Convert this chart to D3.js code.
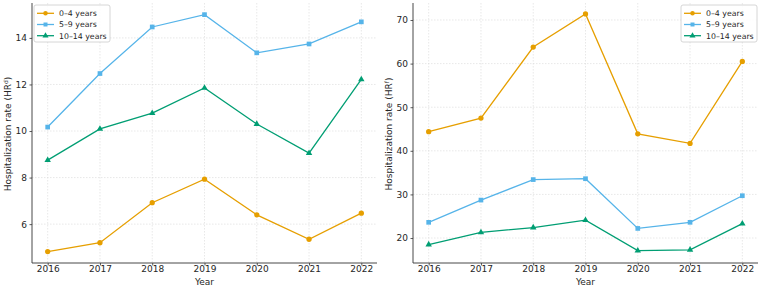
<!DOCTYPE html>
<html><head><meta charset="utf-8">
<script src="https://cdn.jsdelivr.net/npm/d3@7"></script>
<style>body{margin:0;background:#fff;}svg{display:block;} svg text{font-family:"DejaVu Sans",sans-serif;}</style>
</head><body><svg id="c" width="762" height="288"></svg>
<script>
const years = [2016, 2017, 2018, 2019, 2020, 2021, 2022];
const seriesNames = ["0–4 years", "5–9 years", "10–14 years"];
const leftAge04 = [4.82, 5.2, 6.92, 7.93, 6.4, 5.35, 6.47];
const leftAge59 = [10.17, 12.47, 14.47, 15.0, 13.36, 13.74, 14.69];
const leftAge1014 = [8.75, 10.09, 10.77, 11.85, 10.3, 9.05, 12.22];
const rightAge04 = [44.4, 47.5, 63.8, 71.4, 43.9, 41.7, 60.5];
const rightAge59 = [23.6, 28.7, 33.4, 33.6, 22.2, 23.6, 29.7];
const rightAge1014 = [18.5, 21.3, 22.4, 24.1, 17.1, 17.3, 23.3];
const leftTicks = [6, 8, 10, 12, 14];
const rightTicks = [20, 30, 40, 50, 60, 70];
const colors = ["#E69F00", "#56B4E9", "#009E73"];
const markers = ["circle", "square", "triangle"];

const svg = d3.select("#c");
const FONT = "'DejaVu Sans', sans-serif";

function symOf(m) {
  return m === "circle" ? d3.symbolCircle : m === "square" ? d3.symbolSquare : d3.symbolTriangle;
}

function panel(cfg) {
  const g = svg.append("g");
  const x = d3.scaleLinear().domain([2015.7, 2022.3]).range([cfg.x0, cfg.x1]);
  const y = d3.scaleLinear().domain(cfg.ydom).range([263, 3]);
  // grid
  g.append("g").selectAll("line").data(years).join("line")
    .attr("x1", d => x(d)).attr("x2", d => x(d)).attr("y1", 3).attr("y2", 263)
    .attr("stroke", "#d8d8d8").attr("stroke-width", 0.6).attr("stroke-dasharray", "1.5,1.5");
  g.append("g").selectAll("line").data(cfg.ticks).join("line")
    .attr("x1", cfg.x0).attr("x2", cfg.x1).attr("y1", d => y(d)).attr("y2", d => y(d))
    .attr("stroke", "#d8d8d8").attr("stroke-width", 0.6).attr("stroke-dasharray", "1.5,1.5");
  // axes
  const xa = g.append("g").attr("transform", "translate(0,263)")
    .call(d3.axisBottom(x).tickValues(years).tickFormat(d3.format("d")).tickSize(2.5).tickPadding(0.5));
  const ya = g.append("g").attr("transform", `translate(${cfg.x0},0)`)
    .call(d3.axisLeft(y).tickValues(cfg.ticks).tickSize(2.5).tickPadding(2.5));
  [xa, ya].forEach(a => {
    a.attr("font-family", FONT).attr("font-size", 9);
    a.select(".domain").attr("stroke", "#333").attr("stroke-width", 0.9);
    a.selectAll(".tick line").attr("stroke", "#333").attr("stroke-width", 0.8);
    a.selectAll(".tick text").attr("fill", "#262626");
  });
  ya.select(".domain").attr("d", `M0,263V3`);
  xa.select(".domain").attr("d", `M${cfg.x0},0H${cfg.x1}`);
  // labels
  g.append("text").attr("x", (cfg.x0 + cfg.x1) / 2).attr("y", 284.5).attr("text-anchor", "middle")
    .attr("font-family", FONT).attr("font-size", 9).attr("fill", "#262626").text("Year");
  const yl = g.append("text").attr("transform", `translate(${cfg.x0 - 21},${cfg.ly}) rotate(-90)`)
    .attr("text-anchor", "middle").attr("font-family", FONT).attr("font-size", 9).attr("fill", "#262626");
  yl.append("tspan").text("Hospitalization rate (HR");
  yl.append("tspan").attr("dy", -3.5).attr("font-size", 6).text(cfg.sup);
  yl.append("tspan").attr("dy", 3.5).text(")");
  // lines
  const line = d3.line().x((d, i) => x(years[i])).y(d => y(d));
  cfg.data.forEach((vals, k) => {
    g.append("path").attr("d", line(vals)).attr("fill", "none")
      .attr("stroke", colors[k]).attr("stroke-width", 1.3);
    const size = markers[k] === "triangle" ? 18 : 22;
    g.append("g").selectAll("path").data(vals).join("path")
      .attr("transform", (d, i) => `translate(${x(years[i])},${y(d)})`)
      .attr("d", d3.symbol(symOf(markers[k]), size)).attr("fill", colors[k]);
  });
  // legend
  const lg = g.append("g").attr("transform", `translate(${cfg.lx},5)`);
  lg.append("rect").attr("x", 0).attr("y", 0).attr("width", 76).attr("height", 37)
    .attr("rx", 2).attr("fill", "#fff").attr("fill-opacity", 0.85).attr("stroke", "#ccc").attr("stroke-width", 0.8);
  seriesNames.forEach((n, k) => {
    const yy = 8.3 + k * 11.2;
    lg.append("line").attr("x1", 3).attr("x2", 20).attr("y1", yy).attr("y2", yy)
      .attr("stroke", colors[k]).attr("stroke-width", 1.3);
    lg.append("path").attr("transform", `translate(11.5,${yy})`).attr("d", d3.symbol(symOf(markers[k]), 16)).attr("fill", colors[k]);
    lg.append("text").attr("x", 25).attr("y", yy + 2.8).attr("font-family", FONT).attr("font-size", 7.8)
      .attr("fill", "#262626").text(n);
  });
}

panel({x0: 32, x1: 377, ydom: [4.33, 15.5], ticks: leftTicks, sup: "d", ly: 134,
  data: [leftAge04, leftAge59, leftAge1014], lx: 34});
panel({x0: 413, x1: 758, ydom: [14.27, 73.9], ticks: rightTicks, sup: "f", ly: 134,
  data: [rightAge04, rightAge59, rightAge1014], lx: 681});
</script></body></html>
